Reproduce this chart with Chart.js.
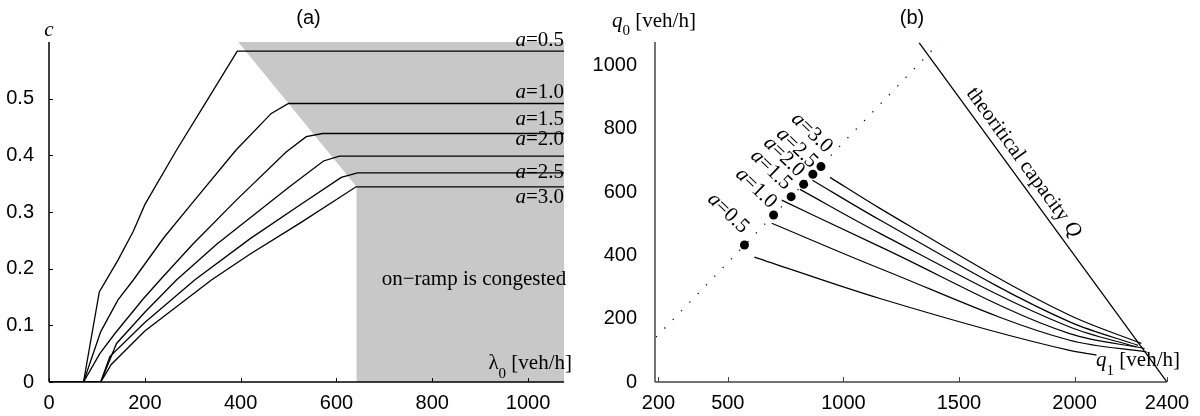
<!DOCTYPE html>
<html>
<head>
<meta charset="utf-8">
<script src="https://cdn.jsdelivr.net/npm/chart.js@4.4.1/dist/chart.umd.min.js"></script>
<style>
  html, body { margin: 0; padding: 0; background: #fff; }
  #wrap { position: relative; width: 1200px; height: 416px; }
  .panel { position: absolute; top: 0; height: 416px; }
</style>
</head>
<body>
<div id="wrap">
  <div class="panel" style="left:0;width:600px"><canvas id="chartA" width="600" height="416"></canvas></div>
  <div class="panel" style="left:580px;width:620px"><canvas id="chartB" width="620" height="416"></canvas></div>
</div>
<script>
// ---- panel (a): c against on-ramp demand lambda0 ----
const aValues = ["0.5", "1.0", "1.5", "2.0", "2.5", "3.0"];

const lamA05 = [0, 72, 105, 144, 176, 200, 266, 330, 393, 1075];
const cA05   = [0, 0, 0.159, 0.215, 0.266, 0.313, 0.409, 0.497, 0.584, 0.584];
const lamA10 = [0, 72, 108, 144, 176, 240, 304, 390, 464, 500, 1075];
const cA10   = [0, 0, 0.089, 0.145, 0.18, 0.255, 0.321, 0.409, 0.474, 0.4915, 0.4915];
const lamA15 = [0, 72, 106, 138, 196, 235, 300, 391, 495, 537, 571, 1075];
const cA15   = [0, 0, 0.05, 0.086, 0.146, 0.183, 0.243, 0.321, 0.406, 0.433, 0.4385, 0.4385];
const lamA20 = [0, 108, 141, 200, 266, 350, 467, 502, 573, 606, 1075];
const cA20   = [0, 0, 0.068, 0.123, 0.18, 0.243, 0.321, 0.3445, 0.39, 0.3986, 0.3986];
const lamA25 = [0, 108, 127, 200, 304, 420, 523, 610, 644, 1075];
const cA25   = [0, 0, 0.045, 0.105, 0.18, 0.253, 0.312, 0.361, 0.369, 0.369];
const lamA30 = [0, 108, 130, 200, 339, 420, 523, 641, 1075];
const cA30   = [0, 0, 0.031, 0.09, 0.18, 0.226, 0.28, 0.3445, 0.3445];

// congested region boundary
const shadeLam = [395, 642, 642, 1075];
const shadeC   = [0.6, 0.3445, 0, 0];

// where the "a=" labels sit (baseline, right aligned at the edge)
const aLabelC = [0.5926, 0.5004, 0.4533, 0.418, 0.3592, 0.3151];

const xTicksA = [0, 200, 400, 600, 800, 1000];
const yTicksA = [0, 0.1, 0.2, 0.3, 0.4, 0.5];

// ---- panel (b): q0 against q1 ----
const dotQ1 = [572, 698, 774, 828, 868, 903];
const dotQ0 = [433, 528, 586, 625, 657, 681];

const q1B05 = [615, 1158, 1979, 2095];
const q0B05 = [395, 264, 100, 85];
const q1B10 = [690, 1158, 1979, 2311];
const q0B10 = [502, 359, 132, 95];
const q1B15 = [733, 1158, 1979, 2303];
const q0B15 = [575, 428, 153, 106];
const q1B20 = [812, 1158, 1979, 2267];
const q0B20 = [609, 470, 174, 111];
const q1B25 = [866, 1158, 1979, 2275];
const q0B25 = [638, 512, 190, 116];
const q1B30 = [942, 1158, 1979, 2289];
const q0B30 = [647, 549, 211, 122];

const capQ1 = [1328, 2400];
const capQ0 = [1072, 0];
const diagQ1 = [190, 1414];
const diagQ0 = [142, 1072];

const bLabelQ1 = [501, 622, 687, 743, 799, 864];
const bLabelQ0 = [534, 613, 671, 712, 740, 788];
const capLabelAt = [1780, 693];

const xTicksB = [200, 500, 1000, 1500, 2000, 2400];
const yTicksB = [0, 200, 400, 600, 800, 1000];

const sans = '"Liberation Sans", Arial, sans-serif';
const serif = '"Liberation Serif", "Times New Roman", serif';

function pts(xs, ys) {
  return xs.map((x, i) => ({ x: x, y: ys[i] }));
}

function drawParts(ctx, parts, x, y, align) {
  let w = 0;
  parts.forEach(p => { ctx.font = p.font; p.w = ctx.measureText(p.t).width; w += p.w; });
  let cx = align === "right" ? x - w : align === "center" ? x - w / 2 : x;
  ctx.textAlign = "left";
  parts.forEach(p => {
    ctx.font = p.font;
    ctx.fillText(p.t, cx, y + (p.dy || 0));
    cx += p.w;
  });
}

function seg(ctx, x1, y1, x2, y2) {
  ctx.beginPath();
  ctx.moveTo(x1, y1);
  ctx.lineTo(x2, y2);
  ctx.stroke();
}

function curveSet(xs, ys, extra) {
  return Object.assign({
    data: pts(xs, ys),
    borderColor: "#000",
    borderWidth: 1.3,
    pointRadius: 0,
    fill: false,
    tension: 0,
    order: 0
  }, extra || {});
}

// ---------- chart (a) ----------
const textA = {
  id: "textA",
  afterDraw(chart) {
    const { ctx, chartArea: ca, scales: { x, y } } = chart;
    ctx.save();
    ctx.strokeStyle = "#000";
    ctx.fillStyle = "#000";
    ctx.lineWidth = 1.5;
    seg(ctx, ca.left, ca.top, ca.left, ca.bottom);
    seg(ctx, ca.left, ca.bottom, ca.right, ca.bottom);
    ctx.lineWidth = 1;
    xTicksA.forEach(v => { const px = Math.round(x.getPixelForValue(v)) + 0.5; seg(ctx, px, ca.bottom, px, ca.bottom - 4); });
    yTicksA.forEach(v => { const py = Math.round(y.getPixelForValue(v)) + 0.5; seg(ctx, ca.left, py, ca.left + 4, py); });

    ctx.textBaseline = "alphabetic";
    aValues.forEach((a, i) => {
      drawParts(ctx, [
        { t: "a", font: "italic 21px " + serif },
        { t: "=" + a, font: "21px " + serif }
      ], ca.right, y.getPixelForValue(aLabelC[i]), "right");
    });

    drawParts(ctx, [{ t: "on\u2212ramp is congested", font: "21px " + serif }],
      x.getPixelForValue(887), y.getPixelForValue(0.171), "center");

    drawParts(ctx, [
      { t: "\u03bb", font: "21px " + serif },
      { t: "0", font: "15px " + serif, dy: 9 },
      { t: " [veh/h]", font: "21px " + serif }
    ], ca.right + 8, ca.bottom - 13, "right");

    drawParts(ctx, [{ t: "c", font: "italic 21px " + serif }], ca.left, ca.top - 6, "center");

    ctx.textBaseline = "middle";
    drawParts(ctx, [{ t: "(a)", font: "20px " + sans }], (ca.left + ca.right) / 2 + 2, 18, "center");
    ctx.restore();
  }
};

new Chart(document.getElementById("chartA"), {
  type: "line",
  data: {
    datasets: [
      curveSet(lamA05, cA05),
      curveSet(lamA10, cA10),
      curveSet(lamA15, cA15),
      curveSet(lamA20, cA20),
      curveSet(lamA25, cA25),
      curveSet(lamA30, cA30),
      {
        data: pts(shadeLam, shadeC),
        borderWidth: 0,
        borderColor: "rgba(0,0,0,0)",
        backgroundColor: "#c8c8c8",
        fill: "end",
        pointRadius: 0,
        tension: 0,
        order: 10
      }
    ]
  },
  options: {
    responsive: false,
    animation: false,
    devicePixelRatio: 1,
    layout: { padding: { left: 0, right: 36, top: 42, bottom: 0 } },
    plugins: { legend: { display: false }, tooltip: { enabled: false } },
    scales: {
      x: {
        type: "linear",
        min: 0,
        max: 1075,
        grid: { display: false },
        border: { display: false },
        afterFit(s) { s.height = 34; },
        afterBuildTicks(s) { s.ticks = xTicksA.map(v => ({ value: v })); },
        ticks: { autoSkip: false, maxRotation: 0, padding: 1, color: "#000", font: { family: sans, size: 20 },
          callback: v => String(v) }
      },
      y: {
        min: 0,
        max: 0.6,
        grid: { display: false },
        border: { display: false },
        afterFit(s) { s.width = 49; },
        afterBuildTicks(s) { s.ticks = yTicksA.map(v => ({ value: v })); },
        ticks: { padding: 7, color: "#000", font: { family: sans, size: 20 },
          callback: v => (v === 0 ? "0" : v.toFixed(1)) }
      }
    }
  },
  plugins: [textA]
});

// ---------- chart (b) ----------
const textB = {
  id: "textB",
  afterDraw(chart) {
    const { ctx, chartArea: ca, scales: { x, y } } = chart;
    ctx.save();
    ctx.strokeStyle = "#444";
    ctx.fillStyle = "#000";
    ctx.lineWidth = 1.5;
    seg(ctx, ca.left, ca.top, ca.left, ca.bottom);
    seg(ctx, ca.left, ca.bottom, ca.right, ca.bottom);
    ctx.lineWidth = 1;
    xTicksB.forEach(v => { const px = Math.round(x.getPixelForValue(v)) + 0.5; seg(ctx, px, ca.bottom, px, ca.bottom - 5); });

    // rotated "a=" labels, perpendicular to the dotted line
    const dx = x.getPixelForValue(diagQ1[1]) - x.getPixelForValue(diagQ1[0]);
    const dy = y.getPixelForValue(diagQ0[1]) - y.getPixelForValue(diagQ0[0]);
    const ang = Math.atan2(dy, dx) + Math.PI / 2;
    ctx.textBaseline = "middle";
    aValues.forEach((a, i) => {
      ctx.save();
      ctx.translate(x.getPixelForValue(bLabelQ1[i]), y.getPixelForValue(bLabelQ0[i]));
      ctx.rotate(ang);
      drawParts(ctx, [
        { t: "a", font: "italic 21px " + serif },
        { t: "=" + a, font: "21px " + serif }
      ], 0, 0, "center");
      ctx.restore();
    });

    // capacity label along the line
    const cx1 = x.getPixelForValue(capQ1[0]), cy1 = y.getPixelForValue(capQ0[0]);
    const cx2 = x.getPixelForValue(capQ1[1]), cy2 = y.getPixelForValue(capQ0[1]);
    ctx.save();
    ctx.translate(x.getPixelForValue(capLabelAt[0]), y.getPixelForValue(capLabelAt[1]));
    ctx.rotate(Math.atan2(cy2 - cy1, cx2 - cx1));
    drawParts(ctx, [
      { t: "theoritical capacity ", font: "21px " + serif },
      { t: "Q", font: "italic 21px " + serif }
    ], 0, 0, "center");
    ctx.restore();

    ctx.textBaseline = "alphabetic";
    drawParts(ctx, [
      { t: "q", font: "italic 21px " + serif },
      { t: "0", font: "15px " + serif, dy: 8 },
      { t: " [veh/h]", font: "21px " + serif }
    ], ca.left - 43, 27, "left");

    drawParts(ctx, [
      { t: "q", font: "italic 21px " + serif },
      { t: "1", font: "15px " + serif, dy: 9 },
      { t: " [veh/h]", font: "21px " + serif }
    ], ca.right + 13, ca.bottom - 16, "right");

    ctx.textBaseline = "middle";
    drawParts(ctx, [{ t: "(b)", font: "20px " + sans }], (ca.left + ca.right) / 2 + 1, 18, "center");
    ctx.restore();
  }
};

const bLine = { cubicInterpolationMode: "monotone", borderWidth: 1.2 };

new Chart(document.getElementById("chartB"), {
  type: "line",
  data: {
    datasets: [
      {
        data: pts(dotQ1, dotQ0),
        showLine: false,
        pointRadius: 4.5,
        pointBackgroundColor: "#000",
        pointBorderWidth: 0,
        borderColor: "#000"
      },
      curveSet(q1B05, q0B05, bLine),
      curveSet(q1B10, q0B10, bLine),
      curveSet(q1B15, q0B15, bLine),
      curveSet(q1B20, q0B20, bLine),
      curveSet(q1B25, q0B25, bLine),
      curveSet(q1B30, q0B30, bLine),
      curveSet(capQ1, capQ0, { borderWidth: 1.3 }),
      curveSet(diagQ1, diagQ0, { borderWidth: 1.3, borderDash: [1.2, 10.8] })
    ]
  },
  options: {
    responsive: false,
    animation: false,
    devicePixelRatio: 1,
    layout: { padding: { left: 0, right: 33, top: 42, bottom: 0 } },
    plugins: { legend: { display: false }, tooltip: { enabled: false } },
    scales: {
      x: {
        type: "linear",
        min: 185,
        max: 2400,
        grid: { display: false },
        border: { display: false },
        afterFit(s) { s.height = 34; },
        afterBuildTicks(s) { s.ticks = xTicksB.map(v => ({ value: v })); },
        ticks: { autoSkip: false, maxRotation: 0, padding: 1, color: "#000", font: { family: sans, size: 20 },
          callback: v => String(v) }
      },
      y: {
        min: 0,
        max: 1075,
        grid: { display: false },
        border: { display: false },
        afterFit(s) { s.width = 75; },
        afterBuildTicks(s) { s.ticks = yTicksB.map(v => ({ value: v })); },
        ticks: { padding: 10, color: "#000", font: { family: sans, size: 20 },
          callback: v => String(v) }
      }
    }
  },
  plugins: [textB]
});
</script>
</body>
</html>
